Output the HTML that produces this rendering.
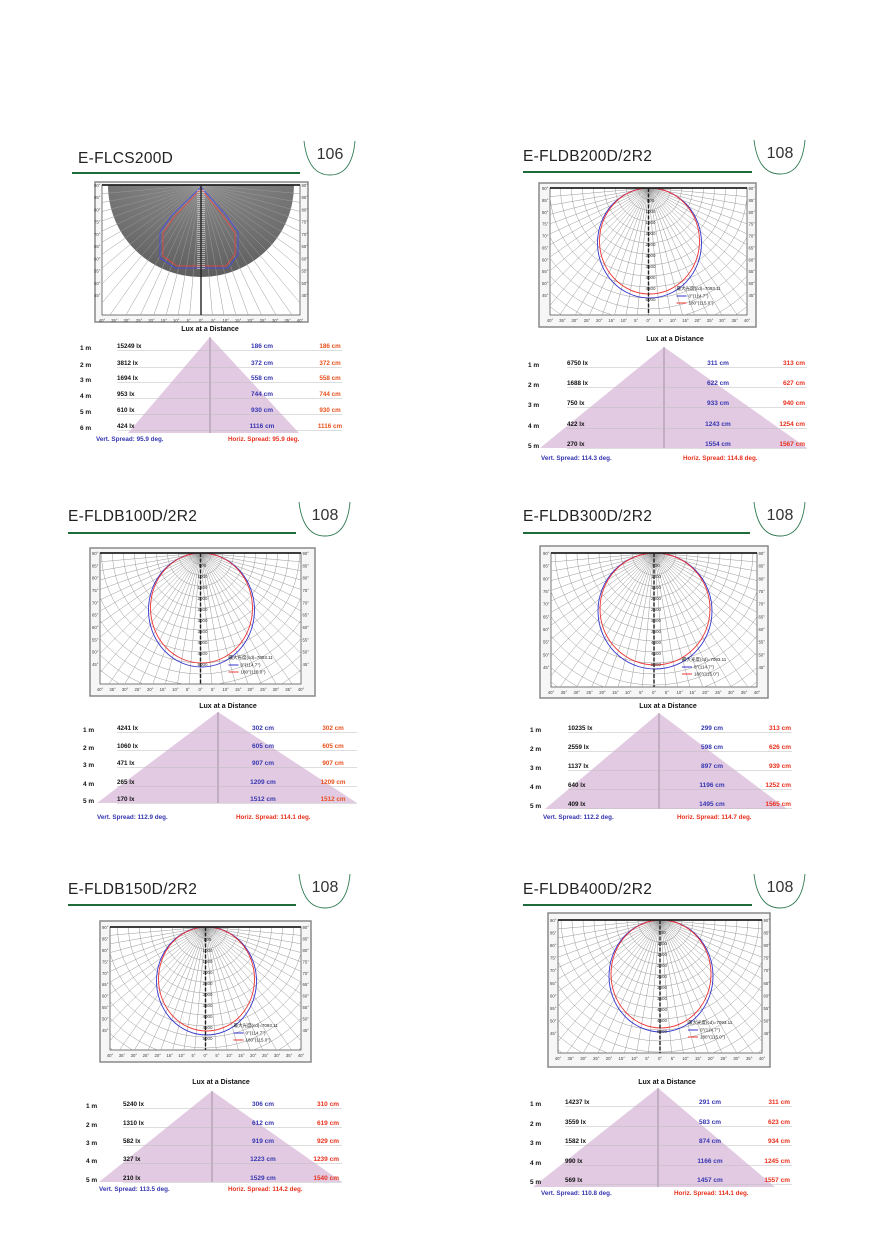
<!DOCTYPE html>
<html><head><meta charset="utf-8"><style>
html,body{margin:0;padding:0;background:#fff;}
svg{display:block}
</style></head><body>
<svg id="s" width="880" height="1245" viewBox="0 0 880 1245" xmlns="http://www.w3.org/2000/svg" font-family="Liberation Sans, Arial, sans-serif"></svg>
<script>
var P=[
{t:"E-FLCS200D",tx:78,ty:163,ly:173,lx1:72,lx2:300,bx:330,by:153,
 box:[95,182,213,140],inner:[102,185,300,315],semi:true,
 lt:[210,331],apex:[210,337],base:[433,128,299],rows:[348,365,380,396,412,428],
 lab:["1 m","2 m","3 m","4 m","5 m","6 m"],labx:80,luxx:117,bluec:262,redc:330,rx2:342,
 lux:["15249 lx","3812 lx","1694 lx","953 lx","610 lx","424 lx"],
 blue:["186 cm","372 cm","558 cm","744 cm","930 cm","1116 cm"],red:["186 cm","372 cm","558 cm","744 cm","930 cm","1116 cm"],
 sy:441,vx:96,hx:228,vs:"Vert. Spread: 95.9 deg.",hs:"Horiz. Spread: 95.9 deg.",num:"106"},
{t:"E-FLDB200D/2R2",tx:523,ty:161,ly:172,lx1:523,lx2:752,bx:780,by:152,
 box:[539,183,217,144],inner:[550,188,747,315],rxy:[50,55],
 lt:[675,341],apex:[664,347],base:[448,540,807],rows:[365,385,405,426,446],
 lab:["1 m","2 m","3 m","4 m","5 m"],labx:528,luxx:567,bluec:718,redr:805,rx2:807,
 lux:["6750 lx","1688 lx","750 lx","422 lx","270 lx"],
 blue:["311 cm","622 cm","933 cm","1243 cm","1554 cm"],red:["313 cm","627 cm","940 cm","1254 cm","1567 cm"],
 sy:460,vx:541,hx:683,vs:"Vert. Spread: 114.3 deg.",hs:"Horiz. Spread: 114.8 deg.",num:"108"},
{t:"E-FLDB100D/2R2",tx:68,ty:521,ly:533,lx1:68,lx2:296,bx:325,by:514,
 box:[90,548,225,148],inner:[100,553,301,684],rxy:[51,57],
 lt:[228,708],apex:[218,712],base:[803,97,357],rows:[730,748,765,784,801],
 lab:["1 m","2 m","3 m","4 m","5 m"],labx:83,luxx:117,bluec:263,redc:333,rx2:357,
 lux:["4241 lx","1060 lx","471 lx","265 lx","170 lx"],
 blue:["302 cm","605 cm","907 cm","1209 cm","1512 cm"],red:["302 cm","605 cm","907 cm","1209 cm","1512 cm"],
 sy:819,vx:97,hx:236,vs:"Vert. Spread: 112.9 deg.",hs:"Horiz. Spread: 114.1 deg.",num:"108"},
{t:"E-FLDB300D/2R2",tx:523,ty:521,ly:533,lx1:523,lx2:750,bx:780,by:514,
 box:[540,546,228,152],inner:[551,553,757,687],rxy:[55,58],
 lt:[668,708],apex:[659,713],base:[809,545,787],rows:[730,749,768,787,806],
 lab:["1 m","2 m","3 m","4 m","5 m"],labx:530,luxx:568,bluec:712,redr:791,rx2:792,
 lux:["10235 lx","2559 lx","1137 lx","640 lx","409 lx"],
 blue:["299 cm","598 cm","897 cm","1196 cm","1495 cm"],red:["313 cm","626 cm","939 cm","1252 cm","1565 cm"],
 sy:819,vx:543,hx:677,vs:"Vert. Spread: 112.2 deg.",hs:"Horiz. Spread: 114.7 deg.",num:"108"},
{t:"E-FLDB150D/2R2",tx:68,ty:894,ly:905,lx1:68,lx2:296,bx:325,by:886,
 box:[100,921,211,141],inner:[110,927,301,1050],rxy:[48,54],
 lt:[221,1084],apex:[212,1091],base:[1182,99,342],rows:[1106,1125,1143,1161,1180],
 lab:["1 m","2 m","3 m","4 m","5 m"],labx:86,luxx:123,bluec:263,redr:339,rx2:342,
 lux:["5240 lx","1310 lx","582 lx","327 lx","210 lx"],
 blue:["306 cm","612 cm","919 cm","1223 cm","1529 cm"],red:["310 cm","619 cm","929 cm","1239 cm","1540 cm"],
 sy:1191,vx:99,hx:228,vs:"Vert. Spread: 113.5 deg.",hs:"Horiz. Spread: 114.2 deg.",num:"108"},
{t:"E-FLDB400D/2R2",tx:523,ty:894,ly:905,lx1:523,lx2:752,bx:780,by:886,
 box:[548,913,222,154],inner:[558,920,762,1053],rxy:[50,56],
 lt:[667,1084],apex:[658,1088],base:[1187,533,775],rows:[1104,1124,1143,1163,1182],
 lab:["1 m","2 m","3 m","4 m","5 m"],labx:530,luxx:565,bluec:710,redr:790,rx2:792,
 lux:["14237 lx","3559 lx","1582 lx","990 lx","569 lx"],
 blue:["291 cm","583 cm","874 cm","1166 cm","1457 cm"],red:["311 cm","623 cm","934 cm","1245 cm","1557 cm"],
 sy:1195,vx:541,hx:674,vs:"Vert. Spread: 110.8 deg.",hs:"Horiz. Spread: 114.1 deg.",num:"108"}
];
var o='';
P.forEach(function(p,i){
 o+='<text x="'+p.tx+'" y="'+p.ty+'" font-size="15.5" fill="#222" letter-spacing="0.3">'+p.t+'</text>';
 o+='<line x1="'+p.lx1+'" y1="'+p.ly+'" x2="'+p.lx2+'" y2="'+p.ly+'" stroke="#1f6b3a" stroke-width="2"/>';
 o+='<path d="M'+(p.bx-26)+' '+(p.by-12)+' Q'+(p.bx-22)+' '+(p.by+22)+' '+p.bx+' '+(p.by+22)+' Q'+(p.bx+22)+' '+(p.by+22)+' '+(p.bx+25)+' '+(p.by-12)+'" fill="none" stroke="#2f7a52" stroke-width="0.9"/>';
 o+='<text x="'+p.bx+'" y="'+(p.by+6)+'" font-size="16" text-anchor="middle" fill="#333">'+p.num+'</text>';
 var b=p.box,n=p.inner,cx=(n[0]+n[2])/2,cy=n[1];
 o+='<rect x="'+b[0]+'" y="'+b[1]+'" width="'+b[2]+'" height="'+b[3]+'" fill="#f6f6f6" stroke="#888" stroke-width="1.5"/>';
 o+='<rect x="'+n[0]+'" y="'+n[1]+'" width="'+(n[2]-n[0])+'" height="'+(n[3]-n[1])+'" fill="#fff" stroke="#555" stroke-width="0.8"/>';
 o+='<clipPath id="c'+i+'"><rect x="'+n[0]+'" y="'+n[1]+'" width="'+(n[2]-n[0])+'" height="'+(n[3]-n[1])+'"/></clipPath><g clip-path="url(#c'+i+')">';
 var L=260;
 if(p.semi){
  o+='<defs><radialGradient id="g'+i+'" cx="0.5" cy="0" r="1"><stop offset="0" stop-color="#8a8a8a"/><stop offset="1" stop-color="#5e5e5e"/></radialGradient></defs>';
  o+='<path d="M'+(cx-93)+' '+cy+' A93 92 0 0 0 '+(cx+93)+' '+cy+' Z" fill="url(#g'+i+')"/>';
 }
 for(var a=-85;a<=85;a+=5){var r=a*Math.PI/180;o+='<line x1="'+cx+'" y1="'+cy+'" x2="'+(cx+L*Math.sin(r))+'" y2="'+(cy+L*Math.cos(r))+'" stroke="#999" stroke-width="0.5"/>';}
 if(p.semi){
  o+='<polygon points="201,187 172,215 160,232 160,258 175,268 228,268 238,255 238,232 226,215" fill="none" stroke="#44e" stroke-width="0.8"/>';
  o+='<polygon points="201,189 174,217 163,233 163,256 177,266 226,266 235,254 235,233 224,217" fill="none" stroke="#e44" stroke-width="0.8"/>';
  for(var k=0;k<40;k++){o+='<rect x="197" y="'+(190+k*2)+'" width="8" height="1" fill="#ddd" opacity="0.6"/>';}
 } else {
  for(var rr=11;rr<260;rr+=11){o+='<circle cx="'+cx+'" cy="'+cy+'" r="'+rr+'" fill="none" stroke="#999" stroke-width="0.5"/>';}
  var rx=p.rxy[0],ry=p.rxy[1];
  o+='<ellipse cx="'+(cx+1)+'" cy="'+(cy+ry)+'" rx="'+(rx+2)+'" ry="'+ry+'" fill="none" stroke="#33c" stroke-width="0.9"/>';
  o+='<ellipse cx="'+(cx+1)+'" cy="'+(cy+ry-2)+'" rx="'+rx+'" ry="'+(ry-2)+'" fill="none" stroke="#e33" stroke-width="0.9"/>';
  for(var k=1;k<11;k++){o+='<text x="'+(cx+2)+'" y="'+(cy+k*11+3)+'" font-size="4.5" text-anchor="middle" fill="#333">'+(k*500)+'</text>';}
  var lx=cx+28,ly=cy+ry*2-8;
  o+='<text x="'+lx+'" y="'+ly+'" font-size="4.5" fill="#222">最大光度(cd)=7093.11</text>';
  o+='<line x1="'+lx+'" y1="'+(ly+6)+'" x2="'+(lx+10)+'" y2="'+(ly+6)+'" stroke="#33c"/><text x="'+(lx+12)+'" y="'+(ly+7.5)+'" font-size="4.5" fill="#222">0°(114.7°)</text>';
  o+='<line x1="'+lx+'" y1="'+(ly+13)+'" x2="'+(lx+10)+'" y2="'+(ly+13)+'" stroke="#e33"/><text x="'+(lx+12)+'" y="'+(ly+14.5)+'" font-size="4.5" fill="#222">180°(115.0°)</text>';
 }
 o+='</g>';
 o+='<line x1="'+cx+'" y1="'+cy+'" x2="'+cx+'" y2="'+n[3]+'" stroke="#222" stroke-width="1.4" stroke-dasharray="'+(p.semi?'0':'4 1.5')+'"/>';
 o+='<line x1="'+n[0]+'" y1="'+cy+'" x2="'+n[2]+'" y2="'+cy+'" stroke="#222" stroke-width="1.8"/>';
 var degs=[90,85,80,75,70,65,60,55,50,45];
 degs.forEach(function(d,j){var y=cy+2+j*(n[3]-n[1]-20)/9;o+='<text x="'+(n[0]-1.5)+'" y="'+y+'" font-size="4.3" text-anchor="end" fill="#444">'+d+'°</text><text x="'+(n[2]+1.5)+'" y="'+y+'" font-size="4.3" fill="#444">'+d+'°</text>';});
 for(var j=0;j<17;j++){var d=Math.abs(40-j*5);var x=n[0]+j*(n[2]-n[0])/16;o+='<text x="'+x+'" y="'+(n[3]+7)+'" font-size="4.3" text-anchor="middle" fill="#444">'+d+'°</text>';}
 var a=p.apex,bs=p.base;
 o+='<polygon points="'+a[0]+','+a[1]+' '+bs[1]+','+bs[0]+' '+bs[2]+','+bs[0]+'" fill="#e2cbe2"/>';
 o+='<line x1="'+a[0]+'" y1="'+a[1]+'" x2="'+a[0]+'" y2="'+bs[0]+'" stroke="#7a6a7a" stroke-width="0.6"/>';
 o+='<text x="'+p.lt[0]+'" y="'+p.lt[1]+'" font-size="7" font-weight="bold" text-anchor="middle" fill="#111">Lux at a Distance</text>';
 p.rows.forEach(function(y,j){
  o+='<line x1="'+p.luxx+'" y1="'+(y+2.5)+'" x2="'+p.rx2+'" y2="'+(y+2.5)+'" stroke="#bbb" stroke-width="0.6"/>';
  o+='<text x="'+p.labx+'" y="'+(y+2)+'" font-size="6.5" font-weight="bold" fill="#111">'+p.lab[j]+'</text>';
  o+='<text x="'+p.luxx+'" y="'+y+'" font-size="6.3" font-weight="bold" fill="#111">'+p.lux[j]+'</text>';
  o+='<text x="'+p.bluec+'" y="'+y+'" font-size="6.5" font-weight="bold" text-anchor="middle" fill="#3535b0">'+p.blue[j]+'</text>';
  if(p.redr) o+='<text x="'+p.redr+'" y="'+y+'" font-size="6.5" font-weight="bold" text-anchor="end" fill="#e8301c">'+p.red[j]+'</text>';
  else o+='<text x="'+p.redc+'" y="'+y+'" font-size="6.3" font-weight="bold" text-anchor="middle" fill="#e8501c">'+p.red[j]+'</text>';
 });
 o+='<text x="'+p.vx+'" y="'+p.sy+'" font-size="6.3" font-weight="bold" fill="#3535b0">'+p.vs+'</text>';
 o+='<text x="'+p.hx+'" y="'+p.sy+'" font-size="6.3" font-weight="bold" fill="#e8301c">'+p.hs+'</text>';
});
document.getElementById('s').innerHTML=o;
</script>
</body></html>
